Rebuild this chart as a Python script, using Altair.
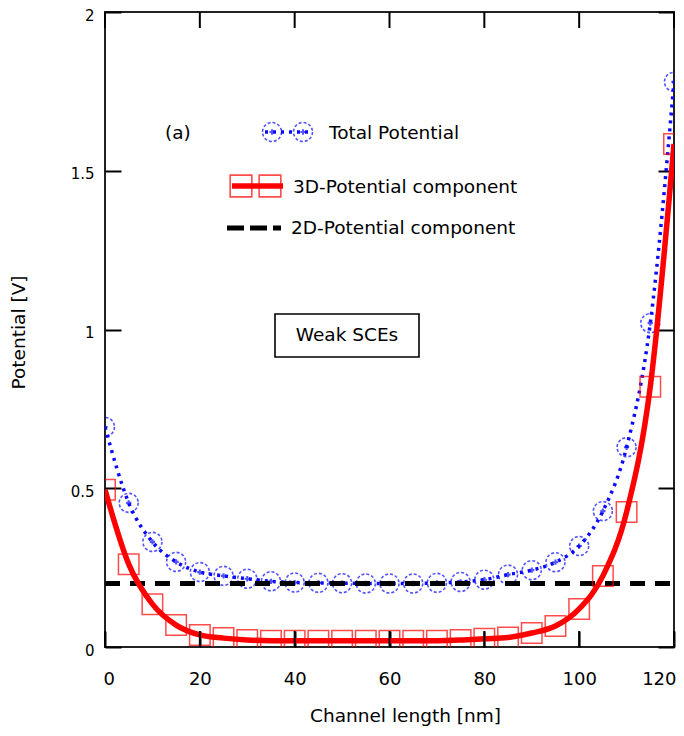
import altair as alt
import pandas as pd

# ---------------- data ----------------
x_nm = [0, 5, 10, 15, 20, 25, 30, 35, 40, 45, 50, 55, 60, 65, 70, 75, 80, 85, 90, 95, 100, 105, 110, 115, 120]
total_potential = [0.693, 0.454, 0.331, 0.268, 0.236, 0.224, 0.215, 0.207, 0.203, 0.202, 0.201, 0.200, 0.200, 0.200,
                   0.202, 0.205, 0.212, 0.228, 0.242, 0.267, 0.318, 0.428, 0.629, 1.02, 1.78]
potential_3d = [0.495, 0.261, 0.135, 0.069, 0.038, 0.028, 0.022, 0.020, 0.020, 0.020, 0.020, 0.020, 0.020, 0.020,
                0.020, 0.022, 0.026, 0.030, 0.044, 0.066, 0.120, 0.224, 0.425, 0.82, 1.584]
line_2d_x = [0, 120]
line_2d_y = [0.2, 0.2]
x_ticks = [0, 20, 40, 60, 80, 100, 120]
y_ticks = [0, 0.5, 1, 1.5, 2]

FONT = "DejaVu Sans"
BLUE = "#0a0aff"
RED = "#ff0000"
W, H = 569, 635
TICK = 16

df = pd.DataFrame({"x": x_nm, "total": total_potential, "p3d": potential_3d})
df2 = pd.DataFrame({"x": line_2d_x, "y": line_2d_y})
dft = pd.DataFrame({"t": x_ticks})
one = pd.DataFrame({"k": [0]})

xs = alt.Scale(domain=[0, 120], nice=False, zero=False)
ys = alt.Scale(domain=[0, 2], nice=False, zero=False)

axis_bottom = alt.Axis(orient="bottom", values=x_ticks, offset=-TICK, tickSize=TICK, domain=False, grid=False,
                       tickColor="black", tickWidth=2, labelColor="black", labelFont=FONT, labelFontSize=18,
                       labelPadding=23, labelFlush=True, labelFlushOffset=2,
                       title="Channel length [nm]", titleFont=FONT, titleFontSize=18.5, titleFontWeight="normal",
                       titleColor="black", titleX=300, titleY=84, titleAlign="center", titleBaseline="middle")
axis_left = alt.Axis(orient="left", values=y_ticks, format=".1~f", offset=-TICK, tickSize=TICK, domain=False,
                     grid=False, tickColor="black", tickWidth=2, labelColor="black", labelFont=FONT,
                     labelFontSize=15, labelPadding=11, labelOffset=3, title="Potential [V]", titleFont=FONT,
                     titleFontSize=18.5, titleFontWeight="normal", titleColor="black", titleX=-103, titleY=320,
                     titleAlign="center", titleBaseline="middle")
axis_right = alt.Axis(orient="right", values=y_ticks, offset=-TICK, tickSize=TICK, domain=False, grid=False,
                      labels=False, title="", tickColor="black", tickWidth=2)

base = alt.Chart(df)

blue_line = base.mark_line(color=BLUE, strokeWidth=3.5, strokeDash=[3, 5], interpolate="monotone", clip=True).encode(
    x=alt.X("x:Q", scale=xs, axis=None), y=alt.Y("total:Q", scale=ys, axis=None))
blue_circles = base.mark_point(shape="circle", size=361, filled=False, color=BLUE, strokeWidth=1.6,
                               strokeDash=[3, 2], clip=True).encode(
    x=alt.X("x:Q", scale=xs, axis=None), y=alt.Y("total:Q", scale=ys, axis=None))
blue_cross = base.mark_point(shape="cross", size=28, filled=True, color=BLUE, clip=True).encode(
    x=alt.X("x:Q", scale=xs, axis=None), y=alt.Y("total:Q", scale=ys, axis=None))

black_dash = alt.Chart(df2).mark_line(color="black", strokeWidth=5, strokeDash=[15, 10]).encode(
    x=alt.X("x:Q", scale=xs, axis=None), y=alt.Y("y:Q", scale=ys, axis=axis_right))

red_line = base.mark_line(color=RED, strokeWidth=5.5, interpolate="monotone", clip=True).encode(
    x=alt.X("x:Q", scale=xs, axis=None), y=alt.Y("p3d:Q", scale=ys, axis=None))
red_squares = base.mark_point(shape="square", size=420, filled=False, color=RED, strokeWidth=1.5, clip=True).encode(
    x=alt.X("x:Q", scale=xs, axis=axis_bottom), y=alt.Y("p3d:Q", scale=ys, axis=axis_left))

# inward x ticks (top and bottom frame), placed through the x scale
ticks_top = alt.Chart(dft).mark_rule(color="#000000", strokeWidth=2).encode(
    x=alt.X("t:Q", scale=xs, axis=None), y=alt.value(0), y2=alt.value(TICK))
ticks_bottom = alt.Chart(dft).mark_rule(color="#000000", strokeWidth=2).encode(
    x=alt.X("t:Q", scale=xs, axis=None), y=alt.value(H - TICK), y2=alt.value(H))


def txt(s, px, py, align="left"):
    return alt.Chart(one).mark_text(align=align, baseline="middle", font=FONT, fontSize=18.5, color="black").encode(
        x=alt.value(px), y=alt.value(py), text=alt.value(s))


def sym(shape, px, py, color, size, dash=None):
    kw = dict(shape=shape, size=size, filled=False, color=color, strokeWidth=1.6)
    if dash:
        kw["strokeDash"] = dash
    return alt.Chart(one).mark_point(**kw).encode(x=alt.value(px), y=alt.value(py))


def cross(px, py):
    return alt.Chart(one).mark_point(shape="cross", size=28, filled=True, color=BLUE).encode(
        x=alt.value(px), y=alt.value(py))


def seg(x1, x2, py, color, width, dash=None):
    kw = dict(color=color, strokeWidth=width)
    if dash:
        kw["strokeDash"] = dash
    return alt.Chart(one).mark_rule(**kw).encode(x=alt.value(x1), x2=alt.value(x2), y=alt.value(py))


legend = [
    txt("(a)", 60, 121),
    seg(160, 205, 120, BLUE, 3.5, [3, 5]),
    sym("circle", 167, 120, BLUE, 361, [3, 2]), cross(167, 120),
    sym("circle", 198, 120, BLUE, 361, [3, 2]), cross(198, 120),
    txt("Total Potential", 224, 121),
    seg(127, 178, 174, RED, 5.5),
    sym("square", 136, 174, RED, 470), sym("square", 165, 174, RED, 470),
    txt("3D-Potential component", 188, 175),
    seg(122, 176, 216, "black", 5, [17, 6]),
    txt("2D-Potential component", 186, 216),
    alt.Chart(one).mark_rect(fillOpacity=0, stroke="black", strokeWidth=1.6).encode(
        x=alt.value(170), x2=alt.value(314), y=alt.value(302), y2=alt.value(345)),
    txt("Weak SCEs", 242, 323, align="center"),
]

chart = alt.layer(
    blue_line, blue_circles, blue_cross, black_dash, red_line, red_squares, ticks_top, ticks_bottom, *legend
).resolve_axis(x="independent", y="independent").properties(
    width=W, height=H,
    autosize=alt.AutoSizeParams(type="none"),
    padding={"left": 97, "top": 4, "right": 2, "bottom": 81},
    background="white",
).configure_view(stroke="#222222", strokeWidth=2)

chart.save("out.html", embed_options={"renderer": "svg", "actions": False})
